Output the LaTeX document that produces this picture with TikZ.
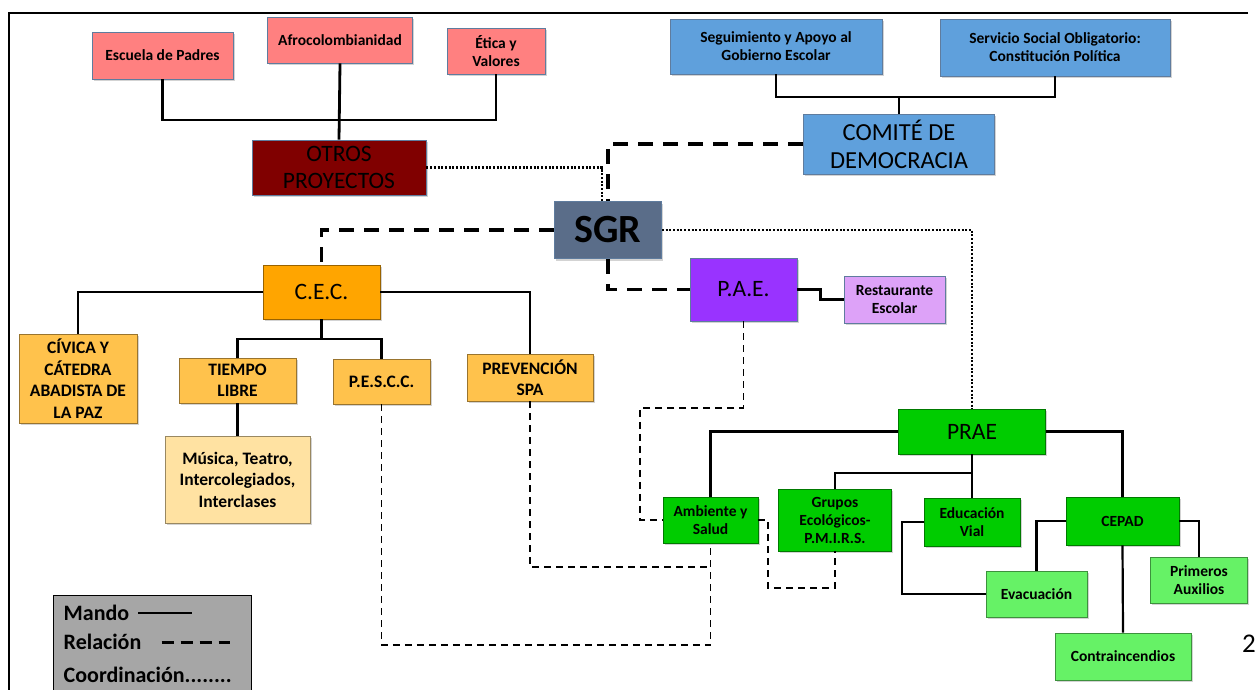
\documentclass[tikz,border=0pt]{standalone}
\usepackage{fontspec}
\setmainfont{Carlito}
\usetikzlibrary{shadows}

\definecolor{pinkbox}{HTML}{FF8080}
\definecolor{bluebox}{HTML}{5FA0DC}
\definecolor{otrosred}{HTML}{800000}
\definecolor{sgrgray}{HTML}{5A6D89}
\definecolor{cecorange}{HTML}{FFA500}
\definecolor{lightorange}{HTML}{FFC24C}
\definecolor{paleorange}{HTML}{FFE2A2}
\definecolor{paepurple}{HTML}{9933FF}
\definecolor{lightpurple}{HTML}{DDA2F8}
\definecolor{praegreen}{HTML}{00CC00}
\definecolor{lightgreen}{HTML}{66F266}
\definecolor{legendgray}{HTML}{A6A6A6}
\definecolor{edgeblue}{HTML}{5F7C9E}

\begin{document}
\begin{tikzpicture}[x=1pt,y=-1pt,
    box/.style={rectangle, fill=#1, draw=#1!60!black, line width=.8pt, align=center, inner sep=1pt,
      drop shadow={opacity=.35, shadow xshift=1.5pt, shadow yshift=-2pt}},
    txtsmall/.style={font=\bfseries\fontsize{15.5}{18}\selectfont},
    txtmid/.style={font=\bfseries\fontsize{17.5}{21.5}\selectfont},
    txtbig/.style={font=\fontsize{23.5}{27}\selectfont},
    mando/.style={draw, line width=2.2pt},
    rel/.style={draw, line width=3.5pt, dash pattern=on 15pt off 10pt},
    relthin/.style={draw, line width=1.4pt, dash pattern=on 7pt off 5pt},
    coord/.style={draw, line width=2.2pt, dash pattern=on 2pt off 1.7pt}]

  \useasboundingbox (0,0) rectangle (1257,690);
  \draw[line width=1.5pt] (1248,13) -- (9,13) -- (9,690);

  \begin{scope}[every node/.append style={txtsmall}]
    \node[box=pinkbox, draw=edgeblue, minimum width=141, minimum height=47] (escuela) at (162.5,55.5) {Escuela de Padres};
    \node[box=pinkbox, draw=edgeblue, minimum width=145, minimum height=46] (afro) at (340,40) {Afrocolombianidad};
    \node[box=pinkbox, draw=edgeblue, minimum width=98, minimum height=46] (etica) at (496,51) {Ética y\\Valores};
    \node[box=bluebox, draw=edgeblue, minimum width=212, minimum height=55] (seguim) at (776,46.5) {Seguimiento y Apoyo al\\Gobierno Escolar};
    \node[box=bluebox, draw=edgeblue, minimum width=230, minimum height=57] (servicio) at (1055,47.5) {Servicio Social Obligatorio:\\Constitución Política};
    \node[box=lightpurple, draw=edgeblue, minimum width=101, minimum height=47] (restaurante) at (894.5,299.5) {Restaurante\\Escolar};
    \node[box=praegreen, minimum width=95, minimum height=46] (ambiente) at (710.5,520) {Ambiente y\\Salud};
    \node[box=praegreen, minimum width=113, minimum height=62] (grupos) at (835,520) {Grupos\\Ecológicos-\\P.M.I.R.S.};
    \node[box=praegreen, minimum width=96, minimum height=48] (educacion) at (972,522) {Educación\\Vial};
    \node[box=praegreen, minimum width=113, minimum height=48] (cepad) at (1122.5,521) {CEPAD};
    \node[box=lightgreen, minimum width=101, minimum height=46] (evacuacion) at (1036.5,594) {Evacuación};
    \node[box=lightgreen, minimum width=97, minimum height=46] (primeros) at (1199,580) {Primeros\\Auxilios};
    \node[box=lightgreen, minimum width=136, minimum height=47] (contra) at (1123,656.5) {Contraincendios};
  \end{scope}

  \begin{scope}[every node/.append style={txtmid}]
    \node[box=lightorange, minimum width=118, minimum height=89] (civica) at (78,378.5) {CÍVICA Y\\CÁTEDRA\\ABADISTA DE\\LA PAZ};
    \node[box=lightorange, minimum width=117, minimum height=45] (tiempo) at (237.5,380.5) {TIEMPO\\LIBRE};
    \node[box=lightorange, minimum width=97, minimum height=45] (pescc) at (381.5,381.5) {P.E.S.C.C.};
    \node[box=lightorange, minimum width=126, minimum height=47] (prevencion) at (530,377.5) {PREVENCIÓN\\SPA};
    \node[box=paleorange, minimum width=145, minimum height=87] (musica) at (237.5,479.5) {Música, Teatro,\\Intercolegiados,\\Interclases};
  \end{scope}

  \begin{scope}[every node/.append style={txtbig}]
    \node[box=otrosred, draw=edgeblue, minimum width=174, minimum height=55] (otros) at (339,167.5) {OTROS\\PROYECTOS};
    \node[box=bluebox, draw=edgeblue, minimum width=191, minimum height=60, font=\fontsize{24.5}{28}\selectfont] (comite) at (899,144) {COMITÉ DE\\DEMOCRACIA};
    \node[box=cecorange, minimum width=117, minimum height=54] (cec) at (321.5,292) {C.E.C.};
    \node[box=paepurple, draw=edgeblue, minimum width=107, minimum height=63] (pae) at (743.5,289.5) {P.A.E.};
    \node[box=praegreen, minimum width=147, minimum height=45] (prae) at (972,431.5) {PRAE};
  \end{scope}
  \node[box=sgrgray, draw=edgeblue, minimum width=107, minimum height=57,
    font=\bfseries\fontsize{40}{44}\selectfont] (sgr) at (608,230) {SGR};

  % mando
  \coordinate (otrosbus) at (340,120);
  \coordinate (comitebus) at (899,97);
  \coordinate (cecbus) at (321.5,339);
  \coordinate (praebus) at (972,473);
  \begin{scope}[line width=2.8pt]
    \draw (escuela.south) |- (otrosbus) -| (etica.south);
    \draw (afro.south) -- (otros.north);
    \draw (seguim.south) |- (comitebus) -| (servicio.south);
    \draw (comitebus) -- (comite.north);
  \end{scope}
  \path[mando] (cec.west) -| (civica.north);
  \path[mando] (cec.east) -| (prevencion.north);
  \path[mando] (cec.south) -- (cecbus);
  \path[mando] (tiempo.north) |- (cecbus) -| (pescc.north);
  \path[mando] (tiempo.south) -- (musica.north);
  \path[mando] (pae.east) -- ++(23,0) |- (restaurante.west);
  \path[mando] (prae.west) -| (ambiente.north);
  \path[mando] (prae.east) -| (cepad.north);
  \path[mando] (prae.south) -- (educacion.north);
  \path[mando] (praebus) -| (grupos.north);
  \path[mando] (educacion.west) -- ++(-22,0) |- (evacuacion.west);
  \path[mando] (cepad.west) -| (evacuacion.north);
  \path[mando] (cepad.east) -| (primeros.north);
  \path[mando] (cepad.south) -- (contra.north);

  % relacion
  \coordinate (ambjoin) at (710.5,567);
  \path[rel] (comite.west) -| (sgr.north);
  \path[rel] (sgr.west) -| (cec.north);
  \path[rel] (sgr.south) |- (pae.west);
  \path[relthin] (pae.south) |- (640,408) |- (ambiente.west);
  \path[relthin] (pescc.south) -- (381.5,645) -| (ambiente.south);
  \path[relthin] (prevencion.south) |- (ambjoin);
  \path[relthin] (ambiente.east) -| (768,588) -| (grupos.south);

  % coordinacion
  \path[coord] (otros.east) -| ([xshift=-6pt]sgr.north);
  \path[coord] (sgr.east) -| (prae.north);

  % leyenda
  \node[draw=black, line width=1pt, fill=legendgray, minimum width=198, minimum height=105] (legend) at (152,647.5) {};
  \begin{scope}[every node/.style={anchor=west, inner sep=0pt, font=\bfseries\fontsize{22}{26}\selectfont}]
    \node (mandotxt) at (63.5,613) {Mando};
    \node (relaciontxt) at (63.5,642) {Relación};
    \node (coordtxt) at (63.5,675) {Coordinación........};
  \end{scope}
  \path[mando] ([xshift=9pt]mandotxt.east) -- ++(54,0);
  \path[draw, line width=3pt, dash pattern=on 12pt off 7pt] ([xshift=20pt]relaciontxt.east) -- ++(68,0);

  \node[anchor=east, inner sep=0pt, font=\fontsize{27}{30}\selectfont] (pagenum) at (1256,644) {2};
\end{tikzpicture}
\end{document}
